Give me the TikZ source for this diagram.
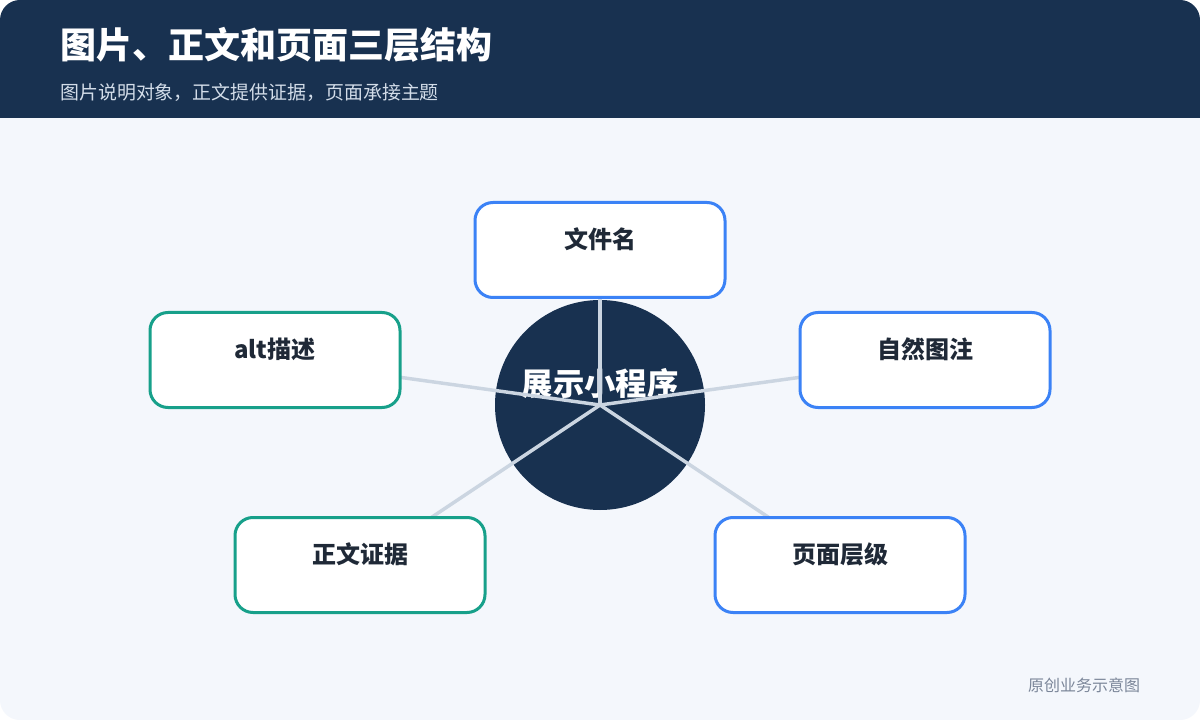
\documentclass[tikz,border=0pt]{standalone}
\usepackage{fontspec}
\setmainfont{Noto Sans CJK SC}
\definecolor{hdr}{HTML}{183150}
\definecolor{pagebg}{HTML}{F4F7FC}
\definecolor{bblue}{HTML}{3B82F6}
\definecolor{bgreen}{HTML}{17A08A}
\definecolor{conncol}{HTML}{CBD5E1}
\definecolor{txtdark}{HTML}{1F2937}
\definecolor{subcol}{HTML}{D3DDE9}
\definecolor{footcol}{HTML}{7B8699}
\pgfdeclarelayer{baselayer}
\pgfdeclarelayer{bglayer}
\pgfdeclarelayer{linelayer}
\pgfsetlayers{baselayer,bglayer,linelayer,main}
\tikzset{
  card/.style={draw, line width=2.25pt, fill=white, rounded corners=13.5pt,
    minimum width=187.5pt, minimum height=71.25pt, inner sep=0pt,
    text height=11.25pt, text depth=13.5pt, font=\bfseries\fontsize{18pt}{18pt}\selectfont, text=txtdark},
  bluecard/.style={card, draw=bblue},
  greencard/.style={card, draw=bgreen},
  conn/.style={draw=conncol, line width=2.6pt},
  hub/.style={circle, fill=hdr, minimum size=157.5pt, inner sep=0pt,
    text height=15pt, text depth=28.5pt, text=white, font=\bfseries\fontsize{23.5pt}{23.5pt}\selectfont}
}
\begin{document}
\begin{tikzpicture}[x=0.75pt,y=-0.75pt]
\useasboundingbox (0,0) rectangle (1200,720);
\begin{pgfonlayer}{baselayer}
\fill[white] (0,0) rectangle (1200,720);
\begin{scope}
  \clip[rounded corners=15pt] (0,0) rectangle (1200,720);
  \fill[pagebg] (0,0) rectangle (1200,720);
  \fill[hdr] (0,0) rectangle (1200,118);
\end{scope}
\end{pgfonlayer}
\node[anchor=west, text=white, font=\bfseries\fontsize{27pt}{27pt}\selectfont, inner sep=0pt] (title) at (60,45) {图片、正文和页面三层结构};
\node[anchor=west, text=subcol, font=\fontsize{14.2pt}{14.2pt}\selectfont, inner sep=0pt] (subtitle) at (60,92) {图片说明对象，正文提供证据，页面承接主题};
\node[text=footcol, font=\fontsize{12pt}{12pt}\selectfont, inner sep=0pt] (foot) at (1084,685) {原创业务示意图};

\begin{pgfonlayer}{bglayer}
\node[hub] (c) at (600,405) {展示小程序};
\end{pgfonlayer}

\node[bluecard] (top) at (600,250) {文件名};
\node[greencard] (alt) at (275,360) {alt描述};
\node[bluecard] (nat) at (925,360) {自然图注};
\node[greencard] (body) at (360,565) {正文证据};
\node[bluecard] (page) at (840,565) {页面层级};

\begin{pgfonlayer}{linelayer}
\draw[conn] (c.center) -- (top.center);
\draw[conn] (c.center) -- (alt.center);
\draw[conn] (c.center) -- (nat.center);
\draw[conn] (c.center) -- (body.center);
\draw[conn] (c.center) -- (page.center);
\end{pgfonlayer}
\end{tikzpicture}
\end{document}
